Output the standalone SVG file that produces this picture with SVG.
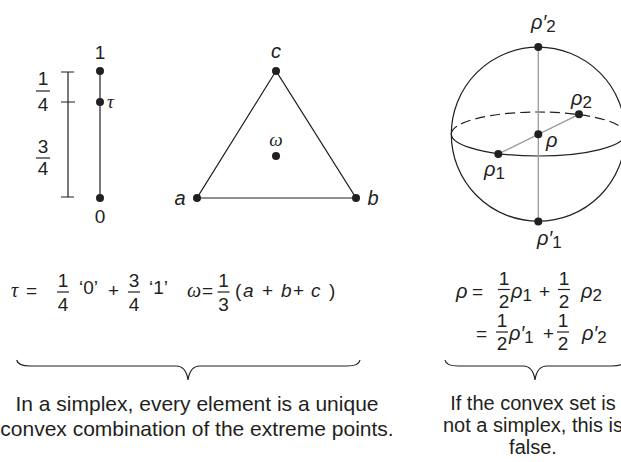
<svg xmlns="http://www.w3.org/2000/svg" width="621" height="462" viewBox="0 0 621 462">
<style>
.s{font-family:"Liberation Sans",Arial,sans-serif;fill:#231f20}
.si{font-family:"Liberation Sans",Arial,sans-serif;font-style:italic;fill:#231f20}
.g{font-family:"Liberation Serif","Times New Roman",serif;font-style:italic;fill:#231f20}
.ln{stroke:#231f20;stroke-width:1.2;fill:none}
.gr{stroke:#9a9a9a;stroke-width:1.3;fill:none}
.dot{fill:#231f20}
.m{text-anchor:middle}
</style>
<rect width="621" height="462" fill="#fff"/>

<g id="segment">
  <path class="ln" d="M68,72V197M61,72H74M61,102H75M61,197H74"/>
  <line class="ln" x1="100" y1="71" x2="100" y2="198"/>
  <circle class="dot" cx="100" cy="71" r="4"/>
  <circle class="dot" cx="100" cy="102" r="4"/>
  <circle class="dot" cx="100" cy="198" r="4"/>
  <text class="s m" x="100" y="59" font-size="19">1</text>
  <text class="s m" x="100" y="223" font-size="19">0</text>
  <text class="g" x="107" y="108" font-size="19">τ</text>
  <text class="s m" x="43" y="85" font-size="19">1</text>
  <line class="ln" x1="36" y1="91" x2="50" y2="91"/>
  <text class="s m" x="43" y="111" font-size="19">4</text>
  <text class="s m" x="43" y="153" font-size="19">3</text>
  <line class="ln" x1="36" y1="158" x2="50" y2="158"/>
  <text class="s m" x="43" y="175" font-size="19">4</text>
</g>

<g id="triangle">
  <path class="ln" d="M276,71L197,198H356Z"/>
  <circle class="dot" cx="276" cy="71" r="4"/>
  <circle class="dot" cx="197" cy="198" r="4"/>
  <circle class="dot" cx="356" cy="198" r="4"/>
  <circle class="dot" cx="276" cy="156" r="4"/>
  <text class="si m" x="276" y="58" font-size="20">c</text>
  <text class="si m" x="180" y="205" font-size="20">a</text>
  <text class="si m" x="373" y="205" font-size="20">b</text>
  <text class="g m" x="276" y="146" font-size="19">ω</text>
</g>

<g id="sphere">
  <circle class="ln" cx="538.3" cy="134.2" r="87"/>
  <path class="ln" stroke-dasharray="10 5" d="M451.3,134A87,22 0 0 1 625.3,134"/>
  <path class="ln" d="M451.3,134A87,22 0 0 0 625.3,134"/>
  <line class="gr" x1="538.3" y1="47" x2="538.3" y2="221"/>
  <line class="gr" x1="498.3" y1="154" x2="579" y2="114.3"/>
  <circle class="dot" cx="538.3" cy="47" r="4"/>
  <circle class="dot" cx="538.3" cy="221.4" r="4"/>
  <circle class="dot" cx="538.3" cy="134.3" r="4"/>
  <circle class="dot" cx="498.3" cy="154" r="4"/>
  <circle class="dot" cx="579" cy="114.3" r="4"/>
  <text class="si" x="531" y="29" font-size="20">ρ′<tspan font-style="normal" font-size="17" dy="3">2</tspan></text>
  <text class="si" x="571" y="105" font-size="20">ρ<tspan font-style="normal" font-size="17" dy="3">2</tspan></text>
  <text class="si" x="546" y="147" font-size="20">ρ</text>
  <text class="si" x="484" y="176" font-size="20">ρ<tspan font-style="normal" font-size="17" dy="3">1</tspan></text>
  <text class="si" x="537" y="245" font-size="20">ρ′<tspan font-style="normal" font-size="17" dy="3">1</tspan></text>
</g>

<g id="eq-left">
  <text class="g" x="11" y="297" font-size="20">τ</text>
  <text class="s" x="26" y="297" font-size="19">=</text>
  <text class="s m" x="63" y="287" font-size="19">1</text>
  <line class="ln" x1="57" y1="292" x2="69" y2="292"/>
  <text class="s m" x="63" y="311" font-size="19">4</text>
  <text class="s" x="79" y="294" font-size="19">‘0’</text>
  <text class="s" x="108" y="297" font-size="19">+</text>
  <text class="s m" x="134" y="287" font-size="19">3</text>
  <line class="ln" x1="128" y1="292" x2="140" y2="292"/>
  <text class="s m" x="134" y="311" font-size="19">4</text>
  <text class="s" x="149" y="294" font-size="19">‘1’</text>
  <text class="g" x="187" y="297" font-size="20">ω</text>
  <text class="s" x="202" y="297" font-size="19">=</text>
  <text class="s m" x="223.5" y="287" font-size="19">1</text>
  <line class="ln" x1="217.5" y1="292" x2="229.5" y2="292"/>
  <text class="s m" x="223.5" y="311" font-size="19">3</text>
  <text class="s" x="235" y="297" font-size="19">(</text>
  <text class="si" x="243" y="297" font-size="19">a</text>
  <text class="s" x="262" y="297" font-size="19">+</text>
  <text class="si" x="281" y="297" font-size="19">b</text>
  <text class="s" x="293" y="297" font-size="19">+</text>
  <text class="si" x="311" y="297" font-size="19">c</text>
  <text class="s" x="329" y="297" font-size="19">)</text>
</g>

<g id="eq-right">
  <text class="si" x="456" y="298" font-size="20">ρ</text>
  <text class="s" x="472" y="298" font-size="19">=</text>
  <text class="s m" x="504" y="285" font-size="19">1</text>
  <line class="ln" x1="498" y1="289.5" x2="510" y2="289.5"/>
  <text class="s m" x="504" y="308" font-size="19">2</text>
  <text class="si" x="511" y="298" font-size="20">ρ<tspan font-style="normal" font-size="17" dy="3">1</tspan></text>
  <text class="s" x="539" y="298" font-size="19">+</text>
  <text class="s m" x="564" y="285" font-size="19">1</text>
  <line class="ln" x1="558" y1="289.5" x2="570" y2="289.5"/>
  <text class="s m" x="564" y="308" font-size="19">2</text>
  <text class="si" x="581" y="298" font-size="20">ρ<tspan font-style="normal" font-size="17" dy="3">2</tspan></text>

  <text class="s" x="476" y="340" font-size="19">=</text>
  <text class="s m" x="502" y="327" font-size="19">1</text>
  <line class="ln" x1="496" y1="332" x2="508" y2="332"/>
  <text class="s m" x="502" y="350" font-size="19">2</text>
  <text class="si" x="509" y="340" font-size="20">ρ′<tspan font-style="normal" font-size="17" dy="3">1</tspan></text>
  <text class="s" x="543" y="340" font-size="19">+</text>
  <text class="s m" x="563" y="327" font-size="19">1</text>
  <line class="ln" x1="557" y1="332" x2="569" y2="332"/>
  <text class="s m" x="563" y="350" font-size="19">2</text>
  <text class="si" x="582" y="340" font-size="20">ρ′<tspan font-style="normal" font-size="17" dy="3">2</tspan></text>
</g>

<g id="connectors">
  <path class="ln" stroke-width="1.5" d="M16.7,360Q18,366 30,366L176,366Q186,366 188,380Q190,366 200,366L347,366Q359,366 360,360"/>
  <path class="ln" stroke-width="1.5" d="M445,360Q446,366 458,366L523,366Q533,366 535,380Q537,366 547,366L612,366Q624,366 625,360"/>
</g>

<g id="captions">
  <text class="s m" x="197" y="411" font-size="21">In a simplex, every element is a unique</text>
  <text class="s m" x="197" y="436" font-size="21">convex combination of the extreme points.</text>
  <text class="s m" x="533" y="410" font-size="20">If the convex set is</text>
  <text class="s m" x="533" y="432" font-size="20">not a simplex, this is</text>
  <text class="s m" x="533" y="454" font-size="20">false.</text>
</g>
</svg>
